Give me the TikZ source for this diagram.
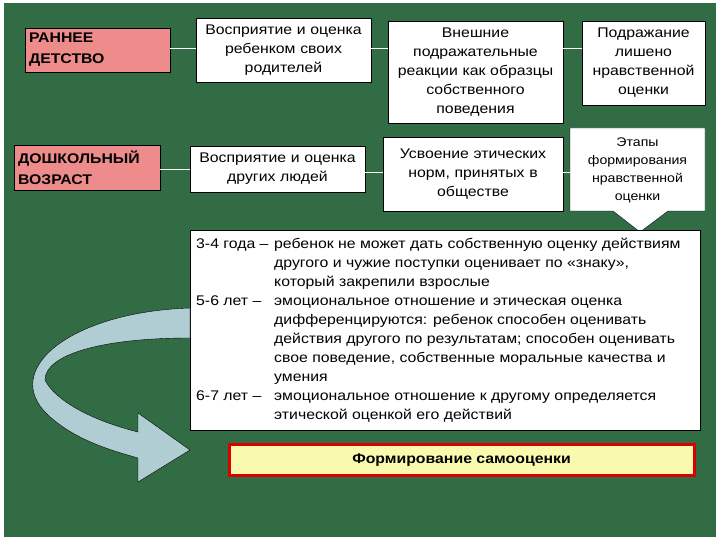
\documentclass[tikz,border=0pt]{standalone}
\usepackage{fontspec}
\setmainfont{Liberation Sans}[FakeStretch=1.13]
\usepackage{array}
\definecolor{bg}{RGB}{50,108,68}
\definecolor{pinkb}{RGB}{238,140,140}
\definecolor{yel}{RGB}{250,250,175}
\definecolor{arr}{RGB}{175,205,210}
\begin{document}
\begin{tikzpicture}[x=1pt,y=-1pt,
  wbox/.style={draw=black,fill=white,align=center,font=\fontsize{14}{19}\selectfont,inner sep=0pt},
  pbox/.style={draw=black,fill=pinkb,align=left,font=\bfseries\fontsize{14}{21}\selectfont,inner sep=0pt},
  conn/.style={white,line width=1pt}]
\useasboundingbox (0,0) rectangle (720,540);
\fill[white] (0,0) rectangle (720,540);
\fill[bg] (4,3) rectangle (716,537);
% row 1
\node[pbox,minimum width=145pt,minimum height=44pt,text width=137pt] (r) at (97.5,50) {РАННЕЕ\\ДЕТСТВО};
\node[wbox,minimum width=175pt,minimum height=64pt,text width=172pt] (a1) at (283.5,50) {Восприятие и оценка\\ребенком своих\\родителей};
\node[wbox,minimum width=175pt,minimum height=102pt,text width=172pt] (a2) at (475.5,72) {Внешние\\подражательные\\реакции как образцы\\собственного\\поведения};
\node[wbox,minimum width=123pt,minimum height=84pt,text width=121pt] (a3) at (643.5,63) {Подражание\\лишено\\нравственной\\оценки};
% row 2
\node[pbox,minimum width=146pt,minimum height=45pt,text width=138pt] (d) at (87,167.5) {ДОШКОЛЬНЫЙ\\ВОЗРАСТ};
\node[wbox,minimum width=175pt,minimum height=46pt,text width=172pt] (b1) at (277.5,169) {Восприятие и оценка\\других людей};
\node[wbox,minimum width=180pt,minimum height=74pt,text width=176pt] (b2) at (473,174) {Усвоение этических\\норм, принятых в\\обществе};
\draw[fill=white] (570,128) -- (705,128) -- (705,211) -- (668,211) -- (640,232) -- (613,211) -- (570,211) -- cycle;
\node[align=center,font=\fontsize{12.5}{18}\selectfont,inner sep=0pt] (b3) at (637.5,170) {Этапы\\формирования\\нравственной\\оценки};
\draw[conn] (r.east |- 0,49) -- (a1.west |- 0,49);
\draw[conn] (a1.east |- 0,49) -- (a2.west |- 0,49);
\draw[conn] (a2.east |- 0,49) -- (a3.west |- 0,49);
\draw[conn] (d.east |- 0,170) -- (b1.west |- 0,170);
\draw[conn] (b1.east |- 0,173) -- (b2.west |- 0,173);
\draw[conn] (b2.east |- 0,173) -- (570,173);
% big text box
\node[draw=black,fill=white,minimum width=510pt,minimum height=200pt,inner sep=0pt,anchor=north west] (t) at (190,230) {};
\node[anchor=north west,inner sep=0pt,font=\fontsize{14}{19}\selectfont] (tt) at (196,235) {%
\begin{tabular}{@{}p{78pt}@{}p{420pt}@{}}
3-4 года – & ребенок не может дать собственную оценку действиям\\
 & другого и чужие поступки оценивает по «знаку»,\\
 & который закрепили взрослые\\
5-6 лет – & эмоциональное отношение и этическая оценка\\
 & дифференцируются: ребенок способен оценивать\\
 & действия другого по результатам; способен оценивать\\
 & свое поведение, собственные моральные качества и\\
 & умения\\
6-7 лет – & эмоциональное отношение к другому определяется\\
 & этической оценкой его действий
\end{tabular}};
% yellow box
\node[draw=red!85!black,line width=3pt,fill=yel,minimum width=465pt,minimum height=31pt,inner sep=0pt,font=\bfseries\fontsize{14}{16}\selectfont] (s) at (461.5,460) {Формирование самооценки};
% curved arrow
\coordinate (cs) at (190,308);
\draw[fill=arr] (cs) .. controls (70,312) and (0,370) .. (48,415) .. controls (75,440) and (110,450) .. (138,458) -- (138,482) -- (190,450) -- (138,413) -- (138,432) .. controls (90,420) and (55,400) .. (45,380) .. controls (45,355) and (100,338) .. (190,338) -- cycle;
\end{tikzpicture}
\end{document}
